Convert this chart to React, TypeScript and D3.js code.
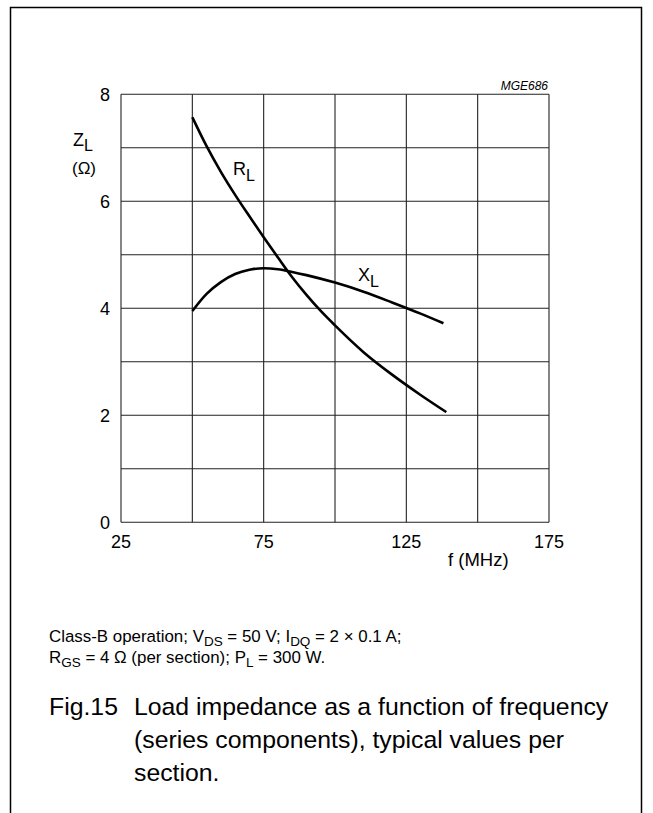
import * as d3 from "d3";

const width = 653;
const height = 813;
const font = "'Liberation Sans', Arial, Helvetica, sans-serif";

// frequency grid and tick labels
const gridFreqs = [25, 50, 75, 100, 125, 150, 175];
const freqTickLabels = [25, 75, 125, 175];
const gridZ = [0, 1, 2, 3, 4, 5, 6, 7, 8];
const zTickLabels = [0, 2, 4, 6, 8];

// R_L curve (MHz, ohm)
const rlFreq = [50, 55, 60, 65, 70, 75, 80, 85, 90, 95, 100, 110, 120, 130, 139];
const rlValue = [7.57, 7.03, 6.55, 6.12, 5.72, 5.33, 4.95, 4.58, 4.25, 3.95, 3.68, 3.18, 2.76, 2.38, 2.06];

// X_L curve (MHz, ohm)
const xlFreq = [50, 55, 60, 65, 70, 75, 80, 85, 90, 100, 110, 120, 130, 138];
const xlValue = [3.95, 4.27, 4.49, 4.64, 4.72, 4.75, 4.73, 4.68, 4.62, 4.48, 4.31, 4.11, 3.9, 3.72];

const xScale = d3.scaleLinear().domain([25, 175]).range([121, 549]);
const yScale = d3.scaleLinear().domain([0, 8]).range([522.3, 94.3]);

const lineGen = d3
  .line<[number, number]>()
  .x((d) => xScale(d[0]))
  .y((d) => yScale(d[1]))
  .curve(d3.curveMonotoneX);

const rlPath = lineGen(rlFreq.map((f, i) => [f, rlValue[i]] as [number, number])) ?? "";
const xlPath = lineGen(xlFreq.map((f, i) => [f, xlValue[i]] as [number, number])) ?? "";

export default function App() {
  return (
    <svg
      width={width}
      height={height}
      viewBox={`0 0 ${width} ${height}`}
      style={{ position: "absolute", left: 0, top: 0, background: "#fff" }}
      fontFamily={font}
    >
      <rect x={0} y={0} width={width} height={height} fill="#fff" />
      {/* frame, open at the bottom */}
      <path d={`M10.5,${height} V7.5 H641.5 V${height}`} fill="none" stroke="#000" strokeWidth={1.5} />

      {gridFreqs.map((f) => (
        <line key={`v-${f}`} x1={xScale(f)} x2={xScale(f)} y1={yScale(0)} y2={yScale(8)} stroke="#222" strokeWidth={1.1} />
      ))}
      {gridZ.map((z) => (
        <line key={`h-${z}`} x1={xScale(25)} x2={xScale(175)} y1={yScale(z)} y2={yScale(z)} stroke="#222" strokeWidth={1.1} />
      ))}

      {zTickLabels.map((z) => (
        <text key={`yl-${z}`} x={xScale(25) - 11} y={yScale(z) + 6.5} textAnchor="end" fontSize={18}>{z}</text>
      ))}
      {freqTickLabels.map((f) => (
        <text key={`xl-${f}`} x={xScale(f)} y={548} textAnchor="middle" fontSize={18}>{f}</text>
      ))}

      <text x={448} y={566} fontSize={18.5}>f (MHz)</text>
      <text x={548} y={90} textAnchor="end" fontSize={12} fontStyle="italic">MGE686</text>

      <text x={73} y={146} fontSize={18}>
        Z<tspan fontSize={16} dy={5}>L</tspan>
      </text>
      <text x={72} y={174} fontSize={17}>(Ω)</text>

      <path d={rlPath} fill="none" stroke="#000" strokeWidth={2.6} />
      <path d={xlPath} fill="none" stroke="#000" strokeWidth={2.6} />

      <text x={233} y={175} fontSize={18}>
        R<tspan fontSize={16} dy={6}>L</tspan>
      </text>
      <text x={358} y={281} fontSize={18}>
        X<tspan fontSize={16} dy={6}>L</tspan>
      </text>

      <text x={49} y={642} fontSize={16.9}>
        Class-B operation; V<tspan fontSize={13.5} dy={3.5}>DS</tspan>
        <tspan dy={-3.5}> = 50 V; I</tspan>
        <tspan fontSize={13.5} dy={3.5}>DQ</tspan>
        <tspan dy={-3.5}> = 2 × 0.1 A;</tspan>
      </text>
      <text x={49} y={663} fontSize={16.9}>
        R<tspan fontSize={13.5} dy={3.5}>GS</tspan>
        <tspan dy={-3.5}> = 4 Ω (per section); P</tspan>
        <tspan fontSize={13.5} dy={3.5}>L</tspan>
        <tspan dy={-3.5}> = 300 W.</tspan>
      </text>

      <g fontSize={24.8}>
        <text x={49} y={715}>Fig.15</text>
        <text x={134} y={715}>Load impedance as a function of frequency</text>
        <text x={134} y={748}>(series components), typical values per</text>
        <text x={134} y={781}>section.</text>
      </g>
    </svg>
  );
}
